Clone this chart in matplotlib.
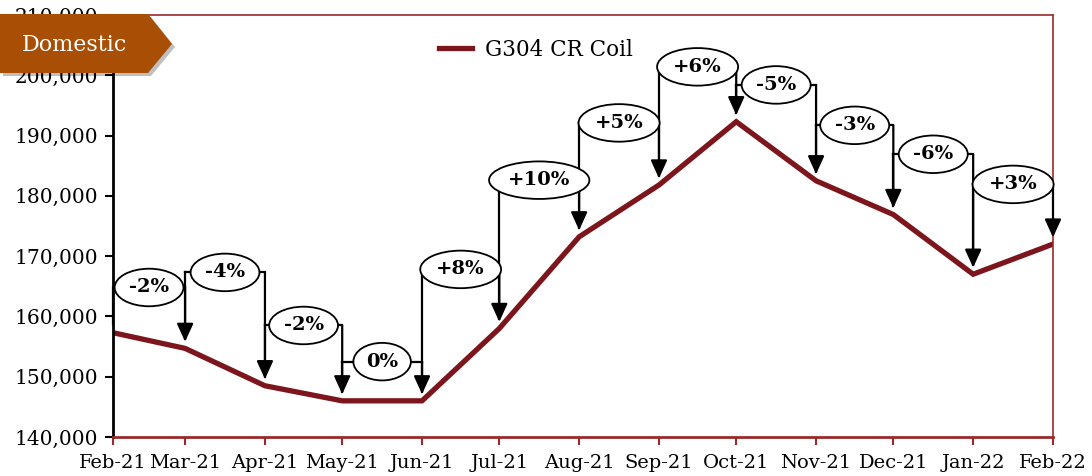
import matplotlib
matplotlib.use('Agg')
import matplotlib.pyplot as plt
import matplotlib.dates as mdates
import pandas as pd
from matplotlib.patches import Polygon
from matplotlib.ticker import FuncFormatter

# data
months = pd.date_range('2021-02-01', '2022-02-01', freq='MS')
prices = [157300, 154700, 148500, 146000, 146000, 158000, 173200,
          181800, 192300, 182500, 176900, 167000, 172000]
change_labels = ['-2%', '-4%', '-2%', '0%', '+8%', '+10%', '+5%',
                 '+6%', '-5%', '-3%', '-6%', '+3%']
series_name = 'G304 CR Coil'
tag_text = 'Domestic'

# height of each bracket (where the % bubble sits)
bracket_levels = [164800, 167300, 158500, 152500, 167800, 182600,
                  192100, 201400, 198400, 191700, 186900, 181900]

red = '#7d151c'
frame_red = '#9b2a2a'
plt.rcParams['font.family'] = ['DejaVu Serif']

fig = plt.figure(figsize=(10.92, 4.76), dpi=100)
ax = fig.add_axes([113/1092, 39/476, 940/1092, 422/476])

x = mdates.date2num(months)
ax.plot(x, prices, color=red, lw=3.8, solid_joinstyle='miter', zorder=2, label=series_name)

gap = 1100
for i, lab in enumerate(change_labels):
    x0, x1 = x[i], x[i + 1]
    lvl = bracket_levels[i]
    ax.plot([x0, x0], [prices[i] + gap + 400, lvl], color='black', lw=1.6, zorder=3, clip_on=False)
    ax.plot([x0, x1], [lvl, lvl], color='black', lw=1.6, zorder=3)
    ax.annotate('', xy=(x1, prices[i + 1] + gap), xytext=(x1, lvl),
                arrowprops=dict(arrowstyle='-|>,head_length=0.55,head_width=0.25',
                                color='black', lw=1.6, mutation_scale=20,
                                shrinkA=0, shrinkB=0), zorder=3)
    ax.text((x0 + x1) / 2, lvl, lab, ha='center', va='center', fontsize=14,
            fontweight='bold', zorder=4,
            bbox=dict(boxstyle='ellipse,pad=0.22', fc='white', ec='black', lw=1.3))

ax.set_xlim(x[0], x[-1])
ax.set_ylim(140000, 210000)
ax.set_xticks(x)
ax.set_xticklabels([m.strftime('%b-%y') for m in months], fontsize=14)
ax.set_yticks(range(140000, 210001, 10000))
ax.yaxis.set_major_formatter(FuncFormatter(lambda v, p: f'{int(v):,}'))
ax.tick_params(axis='y', labelsize=14.5, length=6, width=1.5, color='black', pad=5)
ax.tick_params(axis='x', length=6, width=1.5, color=frame_red, pad=6)

for side in ['top', 'right', 'bottom']:
    ax.spines[side].set_color(frame_red)
ax.spines['top'].set_linewidth(1.2)
ax.spines['right'].set_linewidth(1.2)
ax.spines['bottom'].set_linewidth(2)
ax.spines['left'].set_color('black')
ax.spines['left'].set_linewidth(2)

ax.legend(loc='center', bbox_to_anchor=(0.45, 0.917), frameon=False,
          fontsize=15.5, handlelength=1.5, handletextpad=0.6)

# orange "Domestic" tag in the corner
W, H = 1092, 476
pts = [(0, 14), (148, 14), (172, 44), (148, 73), (0, 73)]
shadow = Polygon([((px + 3) / W, 1 - (py + 3) / H) for px, py in pts],
                 closed=True, transform=fig.transFigure, fc='black', alpha=0.25,
                 ec='none', zorder=9)
tag = Polygon([(px / W, 1 - py / H) for px, py in pts], closed=True,
              transform=fig.transFigure, fc='#a94f05', ec='none', zorder=10)
fig.add_artist(shadow)
fig.add_artist(tag)
fig.text(74 / W, 1 - 45 / H, tag_text, color='white', fontsize=16,
         ha='center', va='center', zorder=11)

fig.savefig('out.png', dpi=100)
